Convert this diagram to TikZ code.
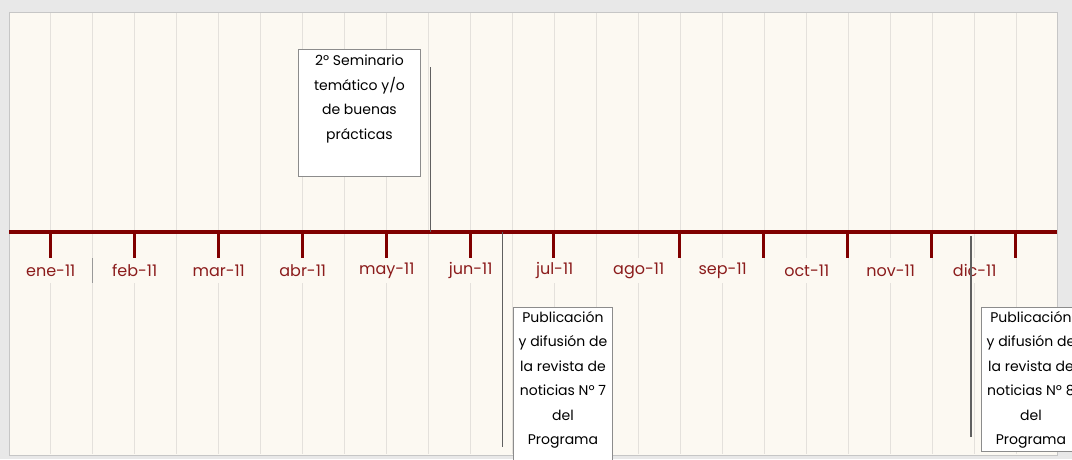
\documentclass[tikz,border=0pt]{standalone}
\usepackage{fontspec}
\setmainfont{Poppins}
\usetikzlibrary{positioning}
\definecolor{pagegray}{HTML}{E8E8E8}
\definecolor{cream}{HTML}{FCF9F2}
\definecolor{gridgray}{HTML}{E4E1DC}
\definecolor{axisred}{HTML}{800000}
\definecolor{monthred}{HTML}{8B1C1C}

\begin{document}
\begin{tikzpicture}[x=1pt,y=-1pt,
      month/.style={fill=cream,text=monthred,inner sep=0pt,
        minimum width=60,minimum height=25,font=\fontsize{16}{18}\selectfont},
      evbox/.style={draw=gray!90,fill=white,line width=0.9pt,inner sep=0pt},
      evtext/.style={anchor=north,align=center,inner sep=0pt,
        font=\fontsize{14}{24.5}\selectfont},
      evline/.style={draw=gray!75!black,line width=1.2pt},
      tick/.style={draw=axisred,line width=3pt}]
    \useasboundingbox (0,0) rectangle (1072,459);
    \fill[pagegray] (0,0) rectangle (1072,459);
    \draw[fill=cream,draw=gray!45,line width=1pt] (9,12) rectangle (1057,455);

    % grid
    \foreach \k in {0,...,23}
        \draw[gridgray,line width=1.5pt] (50.7+42*\k,13) -- (50.7+42*\k,454);

    % months
    \foreach \m [count=\i from 0] in {ene,feb,mar,abr,may,jun,jul,ago,sep,oct,nov,dic}
        \node[month] (m\i) at (50.7+84*\i,270.5) {\m-11};
    \draw[gray!80,line width=0.8pt] (92.5,258) -- (92.5,283);

    % axis
    \draw[axisred,line width=3.5pt] (9,232) -- (1057,232);
    \foreach \x in {50.7,134.7,218.7,302.7,386.7,470.7,553.7,679.7,763.7,847.7,931.7,1015.7}
        \draw[tick] (\x,232) -- (\x,258);

    % 2 Seminario
    \coordinate (e1top) at (430.5,67);
    \coordinate (e1bot) at (430.5,232);
    \draw[evline] (e1top) -- (e1bot);
    \node[evbox,anchor=north west,minimum width=122,minimum height=127] (sem) at (298,49) {};
    \node[evtext] (semtxt) at ([yshift=-6]sem.north) {2º Seminario\\temático y/o\\de buenas\\prácticas};

    % revista 7
    \coordinate (e2top) at (502.5,232);
    \coordinate (e2bot) at (502.5,447);
    \draw[evline] (e2top) -- (e2bot);
    \node[evbox,anchor=north west,minimum width=99,minimum height=170] (rev7) at (513,307) {};
    \node[evtext] (rev7txt) at ([yshift=-4]rev7.north) {Publicación\\y difusión de\\la revista de\\noticias Nº 7\\del\\Programa};

    % revista 8
    \coordinate (e3top) at (971,236);
    \coordinate (e3bot) at (971,437);
    \draw[evline] (e3top) -- (e3bot);
    \node[evbox,anchor=north west,minimum width=99,minimum height=144] (rev8) at (981,307) {};
    \node[evtext] (rev8txt) at ([yshift=-4]rev8.north) {Publicación\\y difusión de\\la revista de\\noticias Nº 8\\del\\Programa};
\end{tikzpicture}
\end{document}
